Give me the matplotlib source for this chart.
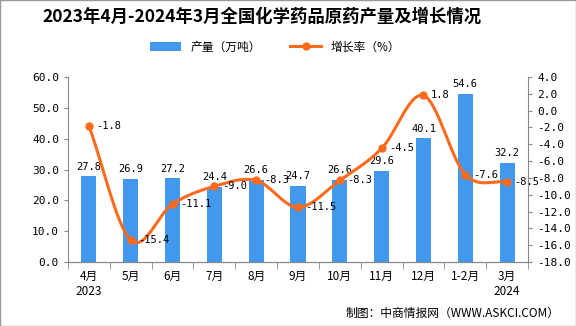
import numpy as np
import matplotlib.pyplot as plt

plt.rcParams['font.family'] = ['Noto Sans CJK SC', 'DejaVu Sans']

# 数据
months = ['4月\n2023', '5月', '6月', '7月', '8月', '9月', '10月', '11月', '12月', '1-2月', '3月\n2024']
output = [27.8, 26.9, 27.2, 24.4, 26.6, 24.7, 26.6, 29.6, 40.1, 54.6, 32.2]
growth = [-1.8, -15.4, -11.1, -9.0, -8.3, -11.5, -8.3, -4.5, 1.8, -7.6, -8.5]

bar_color = '#4198ec'
line_color = '#fb6a1d'
num_font = ['DejaVu Sans Mono']


def smooth(x, y, n=30):
    # Catmull-Rom 曲线，只用于画平滑线
    x = np.asarray(x, float)
    y = np.asarray(y, float)
    px = np.concatenate([[2 * x[0] - x[1]], x, [2 * x[-1] - x[-2]]])
    py = np.concatenate([[2 * y[0] - y[1]], y, [2 * y[-1] - y[-2]]])
    xs, ys = [], []
    t = np.linspace(0, 1, n)
    for i in range(1, len(px) - 2):
        p0, p1, p2, p3 = py[i - 1], py[i], py[i + 1], py[i + 2]
        q0, q1, q2, q3 = px[i - 1], px[i], px[i + 1], px[i + 2]
        ys.append(0.5 * (2 * p1 + (-p0 + p2) * t + (2 * p0 - 5 * p1 + 4 * p2 - p3) * t ** 2
                         + (-p0 + 3 * p1 - 3 * p2 + p3) * t ** 3))
        xs.append(0.5 * (2 * q1 + (-q0 + q2) * t + (2 * q0 - 5 * q1 + 4 * q2 - q3) * t ** 2
                         + (-q0 + 3 * q1 - 3 * q2 + q3) * t ** 3))
    return np.concatenate(xs), np.concatenate(ys)


fig = plt.figure(figsize=(5.76, 3.26), dpi=100)
ax = fig.add_axes([68 / 576, 1 - 262 / 326, 460 / 576, 185 / 326])
ax2 = ax.twinx()

x = np.arange(len(months))
ax.bar(x, output, width=0.36, color=bar_color, label='产量（万吨）', zorder=2)
for xi, v in zip(x, output):
    ax.text(xi, v + 1.5, f'{v:.1f}', ha='center', va='bottom', fontsize=7.5, family=num_font)

sx, sy = smooth(x, growth)
ax2.plot(sx, sy, color=line_color, lw=2.2, zorder=3)
ax2.plot(x, growth, 'o', color=line_color, ms=5, zorder=4)
ax2.plot([], [], color=line_color, lw=2.2, marker='o', ms=5, label='增长率（%）')
for xi, v in zip(x, growth):
    ax2.text(xi + 0.18, v, f'{v:.1f}', ha='left', va='center', fontsize=7.5,
             family=num_font, zorder=5)

ax.set_xlim(-0.5, len(months) - 0.5)
ax.set_ylim(0, 60)
ax.set_yticks(np.arange(0, 61, 10))
ax.set_yticklabels([f'{v:.1f}' for v in np.arange(0, 61, 10)], family=num_font, fontsize=8)
ax2.set_ylim(-18, 4)
ax2.set_yticks(np.arange(-18, 5, 2))
ax2.set_yticklabels([f'{v:.1f}' for v in np.arange(-18, 5, 2)], family=num_font, fontsize=8)

ax.set_xticks(x)
ax.set_xticklabels(months, fontsize=8.5)
ax.set_xticks(np.arange(-0.5, len(months), 1), minor=True)
ax.tick_params(axis='x', which='major', length=0, pad=6)
ax.tick_params(axis='x', which='minor', length=5, color='#888888')
ax.tick_params(axis='y', length=3, color='#888888')
ax2.tick_params(axis='y', length=3, color='#888888')

for a in (ax, ax2):
    a.spines['top'].set_visible(False)
    for s in ('left', 'right', 'bottom'):
        a.spines[s].set_color('#888888')
ax.spines['right'].set_visible(False)
ax2.spines['left'].set_visible(False)

fig.text(262 / 576, 1 - 17 / 326, '2023年4月-2024年3月全国化学药品原药产量及增长情况',
         ha='center', va='center', fontsize=12.5, fontweight='bold')
h1, l1 = ax.get_legend_handles_labels()
h2, l2 = ax2.get_legend_handles_labels()
fig.legend(h1 + h2, l1 + l2, loc='center', bbox_to_anchor=(275 / 576, 1 - 47 / 326), ncol=2,
           frameon=False, fontsize=8.5, handlelength=2.6, columnspacing=2.5)
fig.text(560 / 576, 1 - 313 / 326, '制图：中商情报网（WWW.ASKCI.COM）', ha='right', va='center', fontsize=8.5)

fig.patches.append(plt.Rectangle((0, 0), 1, 1, transform=fig.transFigure, fill=False,
                                 edgecolor='#999999', lw=1))

fig.savefig('out.png', dpi=100)
